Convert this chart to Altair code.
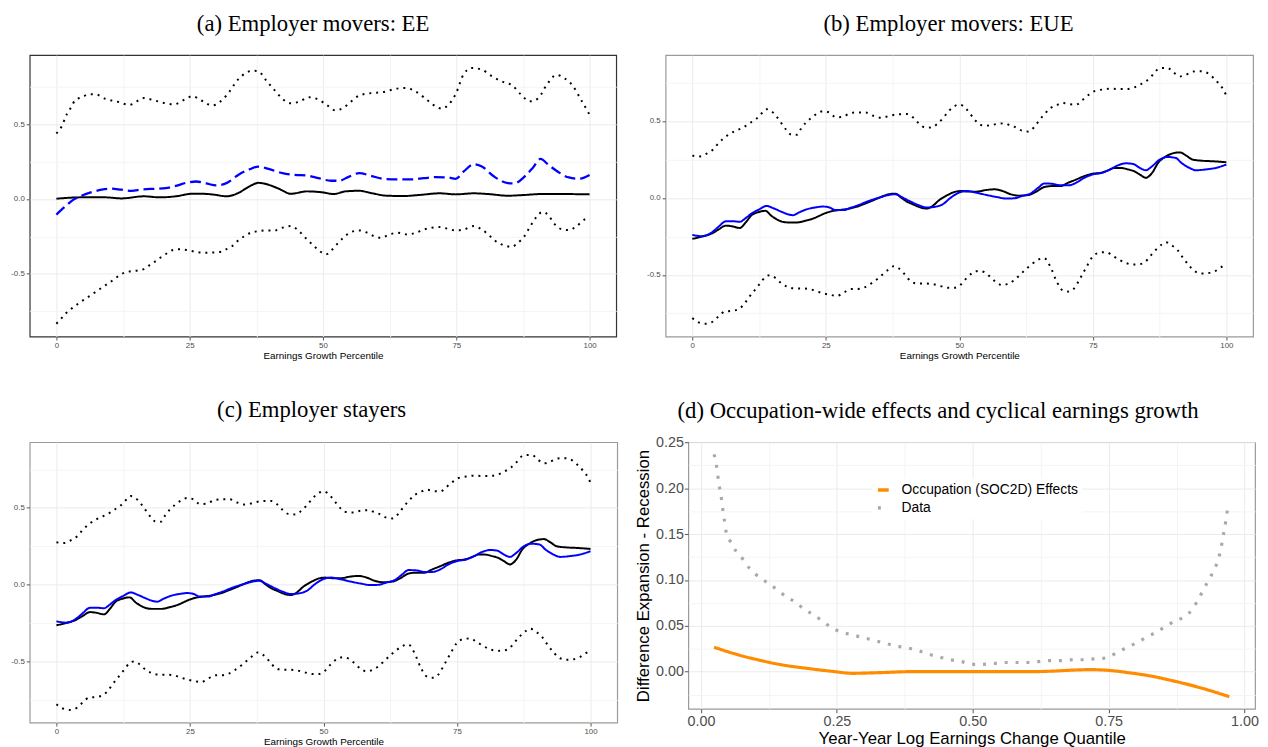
import altair as alt
import pandas as pd

# ---------------- data (x, y) pairs ----------------
A_UPPER = [(0,0.438),(0.9,0.48),(2,0.57),(2.8,0.615),(3.5,0.66),(4.7,0.68),(6.2,0.70),(7.3,0.70),(9.2,0.67),(11.5,0.65),(13.7,0.63),(16.4,0.675),(18.3,0.66),(20.5,0.64),(22,0.633),(24,0.664),(25.5,0.688),(27.3,0.657),(29.2,0.626),(31.9,0.692),(34.1,0.80),(36.8,0.858),(37.9,0.854),(39.4,0.79),(41,0.725),(42.4,0.67),(44,0.64),(45.5,0.65),(47.4,0.68),(49.2,0.664),(50.8,0.626),(52.3,0.593),(53.8,0.61),(55.3,0.653),(56.8,0.692),(59,0.708),(61.3,0.715),(63.6,0.737),(65.5,0.743),(67.4,0.719),(69.6,0.66),(71.1,0.62),(72.3,0.604),(73.4,0.626),(74.9,0.703),(76.4,0.836),(77.9,0.876),(79.8,0.865),(81.7,0.82),(84,0.78),(85.5,0.76),(87,0.703),(88.9,0.653),(90.4,0.675),(91.9,0.76),(93.8,0.83),(95.3,0.807),(96.8,0.76),(98.3,0.67),(100,0.564)]
A_LOWER = [(0,-0.834),(0.9,-0.80),(2,-0.757),(3.2,-0.723),(4.3,-0.695),(5.4,-0.668),(6.6,-0.64),(7.7,-0.613),(8.8,-0.586),(10,-0.558),(11.1,-0.529),(12.2,-0.502),(13.4,-0.487),(14.9,-0.48),(16.4,-0.469),(17.5,-0.442),(18.7,-0.414),(19.8,-0.385),(20.9,-0.36),(22,-0.34),(23.2,-0.336),(24.7,-0.343),(26.2,-0.354),(27.7,-0.36),(29.2,-0.358),(30.7,-0.354),(31.9,-0.336),(33,-0.314),(34.1,-0.277),(35.3,-0.248),(36.4,-0.226),(37.9,-0.215),(39.4,-0.21),(41,-0.21),(42.4,-0.192),(44,-0.181),(45.5,-0.215),(47,-0.27),(48.5,-0.321),(49.6,-0.354),(50.6,-0.37),(51.5,-0.347),(52.6,-0.303),(53.8,-0.259),(55.3,-0.221),(56.8,-0.21),(58.3,-0.226),(59.8,-0.252),(60.9,-0.259),(62.5,-0.237),(64,-0.226),(65.9,-0.237),(67.4,-0.226),(68.9,-0.204),(70.4,-0.192),(71.9,-0.188),(73.4,-0.199),(74.9,-0.21),(76.4,-0.204),(78.3,-0.181),(79.8,-0.204),(81.3,-0.248),(82.8,-0.292),(84.4,-0.314),(85.3,-0.321),(86.6,-0.292),(87.8,-0.248),(88.9,-0.181),(90,-0.122),(91.2,-0.086),(92.3,-0.11),(93.4,-0.166),(94.9,-0.204),(96.1,-0.208),(97.6,-0.181),(99.1,-0.137),(100,-0.126)]
A_BLUE = [(0,-0.104),(1.7,-0.049),(3.2,-0.004),(4.7,0.022),(6.6,0.046),(8.5,0.062),(10.3,0.069),(12.2,0.062),(14.1,0.055),(16,0.064),(18.7,0.069),(20.5,0.073),(22.4,0.088),(24.7,0.111),(26.2,0.117),(28.1,0.104),(30,0.091),(31.9,0.106),(34.1,0.161),(36.4,0.201),(37.9,0.217),(39.8,0.201),(42.4,0.173),(44.7,0.161),(47,0.157),(49.2,0.139),(51.5,0.122),(53,0.122),(54.9,0.15),(56.8,0.173),(59,0.155),(61.3,0.135),(64,0.131),(66.2,0.131),(68.9,0.139),(71.1,0.146),(73.4,0.144),(74.9,0.135),(76.4,0.184),(78.3,0.232),(79.8,0.217),(82.1,0.15),(84.7,0.106),(85.9,0.104),(87.8,0.15),(89.3,0.206),(90.8,0.268),(92.3,0.228),(94.2,0.179),(96.1,0.144),(98,0.135),(100,0.161)]
A_BLACK = [(0,0.002),(4.7,0.011),(9.2,0.011),(12.2,0.004),(16.4,0.018),(19.4,0.011),(22.4,0.018),(25.5,0.035),(27.3,0.035),(29.6,0.029),(31.9,0.018),(34.1,0.04),(36,0.08),(37.9,0.108),(39.8,0.095),(41.7,0.069),(44,0.035),(47,0.051),(50,0.044),(52,0.033),(54.2,0.051),(56.8,0.055),(59,0.04),(62,0.022),(65.1,0.02),(68.1,0.027),(71.9,0.038),(74.9,0.031),(78.3,0.038),(81,0.033),(84.7,0.022),(87.8,0.027),(90.8,0.033),(95.3,0.033),(100,0.031)]

B_UPPER = [(0,0.275),(1.4,0.27),(2.9,0.292),(4,0.318),(4.9,0.356),(5.9,0.388),(7,0.416),(8.1,0.436),(9.6,0.459),(10.7,0.485),(11.9,0.511),(12.8,0.543),(13.9,0.577),(14.8,0.564),(15.8,0.528),(16.7,0.485),(17.6,0.442),(18.6,0.41),(19.6,0.41),(20.4,0.453),(21.3,0.491),(22.3,0.521),(23.4,0.549),(24.5,0.564),(25.7,0.554),(26.9,0.524),(28.3,0.528),(29.4,0.549),(30.9,0.556),(32.4,0.556),(33.9,0.534),(35.3,0.521),(36.8,0.532),(38.3,0.543),(40.2,0.545),(41.3,0.524),(42.4,0.485),(43.5,0.459),(44.8,0.457),(45.8,0.479),(46.9,0.517),(48,0.564),(49.1,0.597),(50.1,0.607),(51.2,0.582),(52.1,0.543),(53.1,0.5),(54,0.474),(55.5,0.47),(57,0.481),(58.5,0.485),(59.6,0.47),(60.7,0.457),(61.8,0.436),(62.9,0.431),(64.1,0.464),(65,0.506),(65.9,0.543),(67,0.582),(68.2,0.603),(69.3,0.618),(70.8,0.609),(71.9,0.607),(73,0.635),(74.1,0.667),(75.2,0.693),(76.7,0.704),(78.2,0.71),(79.7,0.708),(81.2,0.708),(82.5,0.715),(83.8,0.736),(84.9,0.757),(86.1,0.796),(87.5,0.843),(89,0.845),(90.2,0.813),(91.3,0.79),(92.4,0.8),(93.9,0.822),(95.2,0.824),(96.5,0.811),(97.6,0.779),(98.6,0.742),(99.5,0.7),(100,0.663)]
B_LOWER = [(0,-0.781),(1.2,-0.809),(2.5,-0.818),(3.9,-0.803),(4.9,-0.77),(6.1,-0.738),(7.4,-0.734),(8.7,-0.723),(9.8,-0.685),(10.7,-0.642),(11.7,-0.599),(12.6,-0.56),(13.7,-0.513),(14.5,-0.502),(15.6,-0.521),(16.7,-0.556),(17.8,-0.577),(19.1,-0.588),(20.4,-0.588),(21.9,-0.592),(23,-0.603),(24.5,-0.62),(26,-0.631),(27.1,-0.637),(28.3,-0.616),(29.8,-0.592),(30.9,-0.592),(32.2,-0.582),(33.5,-0.556),(34.6,-0.528),(35.7,-0.496),(36.8,-0.464),(37.7,-0.444),(38.7,-0.459),(39.8,-0.498),(40.9,-0.541),(42.1,-0.556),(43.5,-0.556),(45,-0.56),(46.5,-0.573),(48,-0.584),(49.1,-0.584),(50.3,-0.562),(51.4,-0.519),(52.5,-0.487),(53.6,-0.474),(54.7,-0.483),(55.9,-0.517),(57,-0.551),(58.1,-0.567),(59.2,-0.556),(60.3,-0.534),(61.4,-0.498),(62.6,-0.459),(63.7,-0.427),(64.8,-0.401),(65.9,-0.391),(67,-0.444),(68.2,-0.541),(69.3,-0.599),(70.4,-0.609),(71.5,-0.588),(72.6,-0.524),(73.8,-0.449),(74.9,-0.384),(76.2,-0.356),(77.5,-0.352),(78.6,-0.373),(79.9,-0.401),(81.2,-0.423),(82.5,-0.433),(83.7,-0.431),(84.8,-0.416),(85.7,-0.38),(86.8,-0.337),(87.9,-0.303),(88.7,-0.288),(89.8,-0.309),(90.9,-0.341),(92,-0.395),(93.1,-0.444),(94.3,-0.481),(95.5,-0.491),(96.9,-0.487),(98,-0.474),(99.1,-0.448),(100,-0.433)]
B_BLACK = [(0,-0.266),(1.8,-0.251),(3.7,-0.23),(4.8,-0.208),(6.3,-0.18),(7.4,-0.184),(8.9,-0.195),(10,-0.159),(11.1,-0.112),(12.2,-0.094),(13.7,-0.084),(14.8,-0.116),(16.3,-0.148),(17.8,-0.159),(19.7,-0.159),(21.2,-0.148),(22.7,-0.133),(23.8,-0.116),(24.9,-0.099),(26.4,-0.084),(27.9,-0.077),(29.4,-0.069),(30.9,-0.056),(32.4,-0.036),(33.9,-0.015),(35.3,0.006),(36.8,0.024),(38,0.028),(39.1,0.002),(40.2,-0.024),(41.3,-0.041),(42.4,-0.058),(43.9,-0.069),(45,-0.052),(46.2,-0.015),(47.7,0.017),(49.1,0.039),(50.3,0.045),(51.8,0.041),(53.2,0.041),(55.1,0.052),(56.6,0.056),(58.1,0.045),(59.6,0.024),(61.1,0.015),(62.9,0.019),(64.4,0.041),(65.9,0.071),(67.4,0.077),(68.9,0.077),(70.4,0.099),(71.9,0.12),(73.4,0.142),(74.9,0.157),(76.4,0.163),(77.9,0.18),(79,0.195),(80.2,0.195),(81.6,0.185),(82.7,0.174),(83.8,0.152),(84.9,0.131),(86.1,0.163),(87.2,0.227),(88.7,0.27),(90.2,0.292),(91.3,0.296),(92.4,0.277),(93.7,0.249),(95.4,0.242),(97.6,0.238),(100,0.232)]
B_BLUE = [(0,-0.24),(1.8,-0.249),(3.7,-0.223),(4.8,-0.191),(6.3,-0.152),(7.8,-0.152),(8.9,-0.155),(10,-0.131),(11.1,-0.101),(12.6,-0.073),(13.9,-0.052),(15.2,-0.067),(16.7,-0.09),(17.8,-0.105),(18.9,-0.112),(20,-0.094),(21.5,-0.073),(23,-0.062),(24.5,-0.056),(25.7,-0.062),(26.8,-0.079),(28.3,-0.079),(29.8,-0.062),(31.2,-0.045),(33.1,-0.019),(35,0.002),(36.5,0.017),(38,0.024),(39.4,0.002),(40.9,-0.024),(42.4,-0.047),(43.9,-0.062),(45.4,-0.058),(46.9,-0.041),(48.4,0.002),(49.9,0.034),(51.4,0.045),(53.2,0.034),(55.1,0.019),(57,0.006),(58.8,-0.004),(60.3,-0.002),(61.8,0.013),(63.3,0.028),(64.8,0.067),(65.9,0.094),(67.4,0.092),(68.9,0.082),(70.4,0.082),(71.9,0.099),(73.4,0.131),(74.9,0.152),(76.7,0.163),(78.2,0.185),(79.7,0.212),(81.2,0.225),(82.5,0.221),(83.8,0.195),(84.9,0.18),(86.1,0.206),(87.5,0.249),(89,0.266),(90.5,0.26),(91.6,0.227),(93.1,0.195),(94.3,0.18),(96.1,0.185),(98,0.195),(100,0.217)]

D_DATA = [(0.024,0.237),(0.028,0.226),(0.031,0.213),(0.034,0.201),(0.0375,0.189),(0.040,0.177),(0.043,0.165),(0.046,0.153),(0.054,0.142),(0.065,0.131),(0.078,0.122),(0.090,0.112),(0.105,0.104),(0.122,0.097),(0.139,0.090),(0.156,0.082),(0.173,0.076),(0.190,0.068),(0.207,0.062),(0.224,0.055),(0.240,0.048),(0.259,0.043),(0.279,0.040),(0.299,0.037),(0.319,0.034),(0.339,0.031),(0.359,0.028),(0.379,0.026),(0.399,0.023),(0.419,0.019),(0.438,0.016),(0.459,0.013),(0.479,0.011),(0.499,0.008),(0.518,0.008),(0.539,0.009),(0.56,0.010),(0.58,0.010),(0.601,0.010),(0.621,0.011),(0.642,0.012),(0.663,0.012),(0.684,0.013),(0.704,0.013),(0.724,0.014),(0.745,0.015),(0.763,0.020),(0.782,0.026),(0.80,0.031),(0.818,0.037),(0.837,0.043),(0.854,0.049),(0.871,0.055),(0.89,0.060),(0.904,0.068),(0.915,0.079),(0.925,0.090),(0.935,0.101),(0.945,0.112),(0.952,0.123),(0.957,0.135),(0.96,0.146),(0.964,0.158),(0.967,0.171),(0.972,0.182)]
D_OCC = [(0.024,0.0266),(0.0625,0.0194),(0.107,0.0126),(0.151,0.0072),(0.195,0.0036),(0.239,0.0005),(0.279,-0.0018),(0.327,-0.0011),(0.386,0.0),(0.46,0.0),(0.533,0.0),(0.607,0.0),(0.651,0.0007),(0.688,0.0018),(0.717,0.0022),(0.75,0.0014),(0.79,-0.0014),(0.827,-0.0047),(0.864,-0.0094),(0.901,-0.0147),(0.938,-0.0209),(0.972,-0.0273)]

SERIES_D = ["Occupation (SOC2D) Effects", "Data"]
TITLES = ["(a) Employer movers: EE", "(b) Employer movers: EUE",
          "(c) Employer stayers",
          "(d) Occupation-wide effects and cyclical earnings growth"]

X_TICKS = [0, 12.5, 25, 37.5, 50, 62.5, 75, 87.5, 100]
Y_TICKS = [-0.75, -0.5, -0.25, 0, 0.25, 0.5, 0.75]
DX_TICKS = [0, 0.125, 0.25, 0.375, 0.5, 0.625, 0.75, 0.875, 1.0]
DY_TICKS = [-0.025, 0, 0.025, 0.05, 0.075, 0.1, 0.125, 0.15, 0.175, 0.2, 0.225, 0.25]

SANS = "Liberation Sans"
SERIF = "Liberation Serif"
MAJ = "#ebebeb"
MIN = "#f4f4f4"
TITLE_SIZE = 23


def frame(pairs, name=None):
    d = pd.DataFrame(pairs, columns=["x", "y"])
    if name is not None:
        d["series"] = name
    return d


def cond(test, a, b):
    return {"condition": {"test": test, "value": a}, "value": b}


def x_axis_pct():
    t = "datum.value % 25 === 0"
    return alt.Axis(values=X_TICKS, format="d",
                    labelExpr=f"{t} ? datum.label : ''",
                    title="Earnings Growth Percentile", titleFont=SANS,
                    titleFontSize=10, titleFontWeight="normal", titleColor="black",
                    titlePadding=1, labelFont=SANS, labelFontSize=8,
                    labelColor="#4d4d4d", labelPadding=2, labelOverlap=False,
                    labelFlush=False, tickSize=3.5,
                    tickColor=cond(t, "#555555", "transparent"),
                    domain=False, gridColor=cond(t, MAJ, MIN))


def y_axis_pct():
    t = "abs(datum.value) % 0.5 === 0"
    return alt.Axis(values=Y_TICKS,
                    labelExpr="datum.value === 0 ? '0.0' : datum.value === 0.5 ? '0.5' : datum.value === -0.5 ? '-0.5' : ''",
                    title=None, labelFont=SANS, labelFontSize=8,
                    labelColor="#4d4d4d", labelPadding=2, labelOverlap=False,
                    labelFlush=False, tickSize=3.5,
                    tickColor=cond(t, "#555555", "transparent"),
                    domain=False, gridColor=cond(t, MAJ, MIN),
                    minExtent=21, maxExtent=21)


def pct_panel(title, series, ydom, w, h, border, dx, offset):
    xe = alt.X("x:Q", scale=alt.Scale(domain=[-5, 105], nice=False, zero=False), axis=x_axis_pct())
    ye = alt.Y("y:Q", scale=alt.Scale(domain=ydom, nice=False, zero=False), axis=y_axis_pct())
    layers = []
    for pairs, color, dash, width in series:
        layers.append(
            alt.Chart(frame(pairs)).mark_line(color=color, strokeDash=dash, strokeWidth=width,
                                              interpolate="monotone")
            .encode(x=xe, y=ye)
        )
    return alt.layer(*layers).properties(
        width=w, height=h,
        title=alt.TitleParams(title, font=SERIF, fontSize=TITLE_SIZE, fontWeight="normal",
                              color="black", anchor="middle", offset=offset, dx=dx),
        view=alt.ViewBackground(stroke=border, strokeWidth=1.2),
    )


DOT = [2, 5]
SOLID = [1, 0]

panel_a = pct_panel(TITLES[0], [
    (A_UPPER, "black", DOT, 2), (A_LOWER, "black", DOT, 2),
    (A_BLACK, "black", SOLID, 2), (A_BLUE, "#0000ff", [11, 5], 2.3)],
    [-0.92, 0.962], 594, 285, "#333333", -10, 19)

panel_b = pct_panel(TITLES[1], [
    (B_UPPER, "black", DOT, 2), (B_LOWER, "black", DOT, 2),
    (B_BLACK, "black", SOLID, 2), (B_BLUE, "#0000ff", SOLID, 2)],
    [-0.901, 0.928], 595, 285, "#9a9a9a", -11, 19)

panel_c = pct_panel(TITLES[2], [
    (B_UPPER, "black", DOT, 2), (B_LOWER, "black", DOT, 2),
    (B_BLACK, "black", SOLID, 2), (B_BLUE, "#0000ff", SOLID, 2)],
    [-0.901, 0.928], 595, 284, "#9a9a9a", -12, 21)

# ---- panel d ----
df_d = pd.concat([frame(D_OCC, SERIES_D[0]), frame(D_DATA, SERIES_D[1])], ignore_index=True)
tx = "datum.value % 0.25 === 0"
ty = "abs(round(datum.value * 40)) % 2 === 0"
LEG = dict(title=None, orient="none", legendX=853, legendY=429,
           fillColor="white", padding=4, labelFont=SANS, labelLimit=400,
           labelFontSize=14, labelColor="black",
           symbolType="stroke", symbolSize=120,
           symbolStrokeWidth=3.5, labelOffset=11, rowPadding=3)
panel_d = alt.Chart(df_d).mark_line(strokeWidth=3.2, interpolate="monotone").encode(
    x=alt.X("x:Q", scale=alt.Scale(domain=[-0.0234, 1.0194], nice=False, zero=False),
            axis=alt.Axis(values=DX_TICKS, format=".2f",
                          labelExpr=f"{tx} ? datum.label : ''",
                          title="Year-Year Log Earnings Change Quantile", titleFont=SANS,
                          titleFontSize=17, titleFontWeight="normal", titleColor="black",
                          titlePadding=3, labelFont=SANS, labelFontSize=14.5,
                          labelColor="#4d4d4d", labelPadding=2, labelOverlap=False,
                          labelFlush=False, tickSize=4,
                          tickColor=cond(tx, "#555555", "transparent"),
                          domain=False, gridColor=cond(tx, MAJ, MIN))),
    y=alt.Y("y:Q", scale=alt.Scale(domain=[-0.0405, 0.2502], nice=False, zero=False),
            axis=alt.Axis(values=DY_TICKS, format=".2f",
                          labelExpr=f"{ty} ? datum.label : ''",
                          title="Difference Expansion - Recession", titleFont=SANS,
                          titleFontSize=17, titleFontWeight="normal", titleColor="black",
                          titlePadding=2, labelFont=SANS, labelFontSize=14.5,
                          labelColor="#4d4d4d", labelPadding=1, labelOverlap=False,
                          labelFlush=False, tickSize=4,
                          tickColor=cond(ty, "#555555", "transparent"),
                          domain=False, gridColor=cond(ty, MAJ, MIN),
                          minExtent=34, maxExtent=34)),
    color=alt.Color("series:N", scale=alt.Scale(domain=SERIES_D, range=["#ff8c00", "#a9a9a9"]),
                    legend=alt.Legend(**LEG)),
    strokeDash=alt.StrokeDash("series:N", scale=alt.Scale(domain=SERIES_D, range=[[1, 0], [3, 8]]),
                              legend=alt.Legend(**LEG)),
).properties(
    width=574, height=270,
    title=alt.TitleParams(TITLES[3], font=SERIF, fontSize=TITLE_SIZE, fontWeight="normal",
                          color="black", anchor="middle", offset=12, dx=-34),
    view=alt.ViewBackground(stroke="#9a9a9a", strokeWidth=1.2),
)

row1 = alt.hconcat(panel_a, panel_b, spacing=27)
row2 = alt.hconcat(panel_c, panel_d, spacing=16)
chart = alt.vconcat(row1, row2, spacing=36).properties(padding=0, background="white").configure(
    font=SANS)

chart.save("out.html", embed_options={"renderer": "svg", "actions": False})
